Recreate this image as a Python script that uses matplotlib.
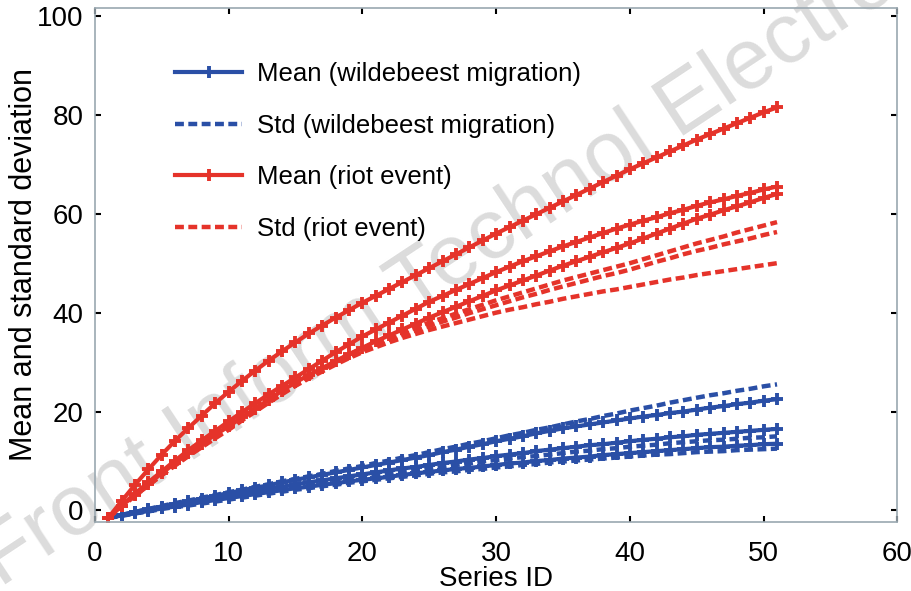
import numpy as np
import matplotlib.pyplot as plt

plt.rcParams['font.family'] = ['Liberation Sans', 'DejaVu Sans']

series_id = list(range(1, 52))

# riot event
riot_mean_1 = [-1.5, 1.9, 5.2, 8.3, 11.3, 14.1, 16.7, 19.2, 21.7, 24.0, 26.2, 28.3, 30.3, 32.2, 34.0, 35.8, 37.4,
               39.0, 40.5, 42.0, 43.4, 44.8, 46.2, 47.6, 49.0, 50.4, 51.8, 53.2, 54.6, 56.0, 57.3, 58.6, 59.9, 61.2,
               62.5, 63.8, 65.1, 66.4, 67.7, 69.0, 70.2, 71.4, 72.6, 73.8, 75.0, 76.1, 77.2, 78.3, 79.4, 80.5, 81.5]
riot_mean_2 = [-1.5, 1.0, 3.4, 5.7, 7.9, 10.1, 12.2, 14.2, 16.1, 18.0, 19.9, 21.7, 23.5, 25.2, 26.9, 28.6, 30.3,
               32.0, 33.6, 35.2, 36.6, 38.0, 39.4, 40.8, 42.2, 43.4, 44.6, 45.8, 47.0, 48.2, 49.3, 50.4, 51.4, 52.4,
               53.4, 54.3, 55.2, 56.1, 57.0, 57.8, 58.6, 59.3, 60.1, 60.8, 61.6, 62.3, 62.9, 63.6, 64.2, 64.9, 65.5]
riot_mean_3 = [-1.5, 0.9, 3.2, 5.4, 7.5, 9.6, 11.6, 13.5, 15.3, 17.0, 18.8, 20.6, 22.4, 24.2, 25.9, 27.4, 28.8,
               30.2, 31.6, 32.9, 34.2, 35.4, 36.6, 37.8, 39.0, 40.1, 41.2, 42.3, 43.4, 44.5, 45.5, 46.5, 47.5, 48.5,
               49.5, 50.4, 51.3, 52.2, 53.1, 54.0, 55.0, 56.0, 57.0, 58.0, 59.0, 59.8, 60.7, 61.5, 62.3, 63.2, 64.0]
riot_std_1 = [-1.5, 0.9, 3.2, 5.4, 7.5, 9.5, 11.5, 13.4, 15.2, 17.0, 18.8, 20.5, 22.2, 23.9, 25.6, 27.1, 28.6,
              30.1, 31.5, 32.8, 33.9, 35.0, 36.0, 37.0, 38.0, 38.9, 39.8, 40.7, 41.6, 42.5, 43.3, 44.1, 44.9, 45.7,
              46.5, 47.2, 47.9, 48.6, 49.3, 50.0, 50.8, 51.6, 52.4, 53.2, 54.0, 54.7, 55.4, 56.2, 56.9, 57.6, 58.3]
riot_std_2 = [-1.5, 0.8, 3.0, 5.1, 7.2, 9.2, 11.1, 13.0, 14.8, 16.5, 18.4, 20.2, 22.0, 23.7, 25.3, 26.9, 28.4,
              29.8, 31.1, 32.4, 33.5, 34.5, 35.5, 36.4, 37.3, 38.2, 39.0, 39.9, 40.7, 41.5, 42.3, 43.1, 43.8, 44.6,
              45.3, 46.0, 46.7, 47.4, 48.0, 48.7, 49.5, 50.3, 51.0, 51.8, 52.5, 53.1, 53.8, 54.4, 55.0, 55.7, 56.3]
riot_std_3 = [-1.5, 0.8, 3.0, 5.1, 7.1, 9.1, 11.0, 12.8, 14.6, 16.3, 18.2, 20.0, 21.8, 23.5, 25.2, 26.7, 28.1,
              29.5, 30.8, 32.0, 33.0, 34.0, 34.9, 35.7, 36.5, 37.2, 37.9, 38.6, 39.3, 40.0, 40.6, 41.1, 41.7, 42.2,
              42.8, 43.3, 43.8, 44.3, 44.7, 45.2, 45.7, 46.2, 46.7, 47.1, 47.6, 48.0, 48.4, 48.8, 49.2, 49.6, 50.0]

# wildebeest migration
wild_mean_1 = [-1.5, -0.9, -0.3, 0.3, 0.8, 1.3, 1.9, 2.4, 3.0, 3.5, 4.1, 4.6, 5.1, 5.7, 6.2, 6.7, 7.2, 7.7, 8.2,
               8.7, 9.2, 9.7, 10.2, 10.7, 11.2, 11.8, 12.3, 12.9, 13.4, 14.0, 14.5, 15.0, 15.6, 16.1, 16.6, 17.0,
               17.4, 17.8, 18.2, 18.6, 19.0, 19.3, 19.7, 20.0, 20.4, 20.8, 21.1, 21.5, 21.8, 22.2, 22.5]
wild_mean_2 = [-1.5, -1.0, -0.4, 0.1, 0.6, 1.1, 1.6, 2.0, 2.5, 3.0, 3.5, 3.9, 4.4, 4.8, 5.3, 5.7, 6.1, 6.5, 6.9,
               7.3, 7.7, 8.1, 8.5, 8.8, 9.2, 9.6, 9.9, 10.3, 10.6, 11.0, 11.3, 11.6, 12.0, 12.3, 12.6, 12.9, 13.2,
               13.4, 13.7, 14.0, 14.3, 14.5, 14.8, 15.0, 15.3, 15.5, 15.7, 15.9, 16.1, 16.3, 16.5]
wild_mean_3 = [-1.5, -1.0, -0.6, -0.1, 0.4, 0.8, 1.2, 1.7, 2.1, 2.5, 2.9, 3.3, 3.7, 4.1, 4.5, 4.8, 5.2, 5.5, 5.9,
               6.2, 6.5, 6.8, 7.2, 7.5, 7.8, 8.1, 8.4, 8.6, 8.9, 9.2, 9.5, 9.7, 10.0, 10.2, 10.5, 10.7, 10.9, 11.2,
               11.4, 11.6, 11.8, 12.0, 12.2, 12.4, 12.6, 12.8, 12.9, 13.1, 13.2, 13.4, 13.5]
wild_std_1 = [-1.5, -0.9, -0.3, 0.3, 0.9, 1.5, 2.0, 2.6, 3.1, 3.7, 4.2, 4.8, 5.3, 5.9, 6.4, 6.9, 7.4, 8.0, 8.5,
              9.0, 9.6, 10.1, 10.7, 11.2, 11.8, 12.4, 12.9, 13.5, 14.0, 14.6, 15.2, 15.7, 16.3, 16.8, 17.4, 18.0,
              18.5, 19.1, 19.6, 20.2, 20.7, 21.2, 21.8, 22.3, 22.8, 23.3, 23.7, 24.2, 24.6, 25.1, 25.5]
wild_std_2 = [-1.5, -1.0, -0.5, 0.0, 0.5, 0.9, 1.4, 1.8, 2.3, 2.7, 3.1, 3.5, 4.0, 4.4, 4.8, 5.2, 5.6, 5.9, 6.3,
              6.7, 7.1, 7.4, 7.8, 8.1, 8.5, 8.8, 9.2, 9.5, 9.9, 10.2, 10.5, 10.8, 11.0, 11.3, 11.6, 11.9, 12.1,
              12.4, 12.6, 12.9, 13.1, 13.3, 13.6, 13.8, 14.0, 14.2, 14.3, 14.5, 14.7, 14.8, 15.0]
wild_std_3 = [-1.5, -1.1, -0.6, -0.2, 0.3, 0.7, 1.0, 1.4, 1.8, 2.2, 2.6, 3.0, 3.4, 3.8, 4.2, 4.5, 4.9, 5.2, 5.6,
              5.9, 6.2, 6.5, 6.8, 7.1, 7.4, 7.7, 7.9, 8.2, 8.4, 8.7, 8.9, 9.2, 9.4, 9.7, 9.9, 10.1, 10.3, 10.5,
              10.7, 10.9, 11.1, 11.3, 11.4, 11.6, 11.8, 11.9, 12.0, 12.2, 12.3, 12.4, 12.5]

blue = '#2a4fa6'
red = '#e5332a'

fig = plt.figure(figsize=(9.12, 5.91), dpi=100)
ax = fig.add_axes([0.104, 0.117, 0.88, 0.8695])
ax.patch.set_alpha(0)

# watermark
fig.text(0.0, 0.005, 'Front Inform Technol Electron Eng', fontsize=62, color='#dcdcdc',
         rotation=33.5, rotation_mode='anchor', ha='left', va='baseline', zorder=-1)

mean_kw = dict(ls='-', lw=3, marker='+', ms=9, mew=2.8)
std_kw = dict(ls='--', lw=3.2, dashes=(2, 1))

# wildebeest migration
ax.plot(series_id, wild_mean_1, color=blue, label='Mean (wildebeest migration)', **mean_kw)
ax.plot(series_id, wild_std_1, color=blue, label='Std (wildebeest migration)', **std_kw)
ax.plot(series_id, wild_mean_2, color=blue, **mean_kw)
ax.plot(series_id, wild_std_2, color=blue, **std_kw)
ax.plot(series_id, wild_mean_3, color=blue, **mean_kw)
ax.plot(series_id, wild_std_3, color=blue, **std_kw)

# riot event
ax.plot(series_id, riot_mean_1, color=red, label='Mean (riot event)', **mean_kw)
ax.plot(series_id, riot_std_1, color=red, label='Std (riot event)', **std_kw)
ax.plot(series_id, riot_mean_2, color=red, **mean_kw)
ax.plot(series_id, riot_std_2, color=red, **std_kw)
ax.plot(series_id, riot_mean_3, color=red, **mean_kw)
ax.plot(series_id, riot_std_3, color=red, **std_kw)

ax.set_xlim(0, 60)
ax.set_ylim(-2.3, 101.6)
ax.set_xticks(range(0, 61, 10))
ax.set_yticks(range(0, 101, 20))
ax.tick_params(direction='in', length=4, width=1.5, top=True, right=True, labelsize=20)
ax.tick_params(axis='x', pad=14)
ax.tick_params(axis='y', pad=8)
for s in ax.spines.values():
    s.set_color('#9aa8b0')
    s.set_linewidth(1.2)

ax.set_xlabel('Series ID', fontsize=20, labelpad=-1)
ax.set_ylabel('Mean and standard deviation', fontsize=22, labelpad=-1)

ax.legend(loc='upper left', bbox_to_anchor=(0.1, 0.894), frameon=False, fontsize=18.5,
          handlelength=2.6, handletextpad=0.6, labelspacing=1.07, borderpad=0, borderaxespad=0)

fig.savefig('out.png', dpi=100)
